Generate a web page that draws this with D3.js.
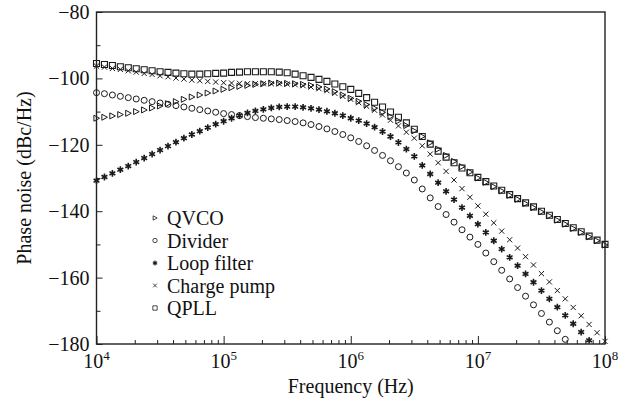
<!DOCTYPE html>
<html><head><meta charset="utf-8">
<script src="https://cdn.jsdelivr.net/npm/d3@7"></script>
<style>body{margin:0;background:#fff}svg{display:block}svg text{font-family:"Liberation Serif","DejaVu Serif",serif;}</style>
</head><body>
<svg id="c" width="627" height="404"></svg>
<script>
// sample frequencies: log10(f), 16 points per decade from 1e4 to 1e8
const logFreq = d3.range(65).map(i => 4 + i / 16);
const xTickExps = [4, 5, 6, 7, 8];
const yTicks = [-80, -100, -120, -140, -160, -180];
const yMinorTicks = [-90, -110, -130, -150, -170];
const seriesNames = ["QVCO", "Divider", "Loop filter", "Charge pump", "QPLL"];

const qvco = [-112.0,-111.7,-111.3,-110.9,-110.5,-110.0,-109.5,-108.9,-108.3,-107.6,-107.0,-106.3,-105.6,-105.0,-104.4,-103.8,
  -103.3,-102.8,-102.4,-102.1,-101.8,-101.6,-101.4,-101.4,-101.5,-101.6,-101.8,-102.1,-102.6,-103.2,-104.0,-105.0,
  -106.0,-106.9,-107.9,-109.0,-110.2,-111.5,-112.8,-114.2,-115.8,-117.5,-119.4,-121.3,-123.2,-125.0,-126.6,-128.2,
  -130.0,-131.3,-132.6,-133.9,-135.2,-136.4,-137.7,-138.9,-140.2,-141.4,-142.7,-143.9,-145.2,-146.4,-147.7,-148.9,-150.2];
const divider = [-104.3,-104.6,-105.0,-105.4,-105.8,-106.2,-106.6,-107.0,-107.4,-107.8,-108.2,-108.6,-109.0,-109.4,-109.8,-110.2,
  -110.6,-110.9,-111.2,-111.5,-111.8,-112.0,-112.2,-112.4,-112.7,-113.0,-113.4,-113.9,-114.5,-115.2,-116.0,-116.9,
  -117.9,-119.0,-120.3,-121.7,-123.2,-124.8,-126.6,-128.5,-130.6,-133.3,-136.0,-138.6,-141.0,-143.3,-145.6,-147.8,
  -150.0,-152.6,-155.2,-157.8,-160.4,-163.0,-165.6,-168.2,-170.8,-173.4,-176.0,-178.6,-181.2,-183.8,-186.4,-189.0,-191.6];
const loopFilter = [-130.8,-129.7,-128.6,-127.5,-126.4,-125.2,-124.0,-122.8,-121.6,-120.4,-119.2,-118.0,-116.9,-115.9,-114.8,-113.8,
  -112.9,-112.0,-111.2,-110.4,-109.8,-109.3,-108.9,-108.6,-108.5,-108.5,-108.7,-109.0,-109.4,-109.9,-110.5,-111.2,
  -112.0,-112.7,-113.6,-114.7,-116.0,-117.5,-119.3,-121.3,-123.5,-126.2,-128.8,-131.4,-134.0,-136.5,-138.9,-141.4,
  -143.9,-146.4,-148.9,-151.4,-153.9,-156.4,-158.9,-161.4,-163.9,-166.4,-168.9,-171.4,-173.9,-176.4,-178.9,-181.4,-183.9];
const chargePump = [-96.3,-96.6,-97.0,-97.3,-97.7,-98.1,-98.5,-98.8,-99.2,-99.5,-99.9,-100.2,-100.5,-100.7,-100.9,-101.1,
  -101.3,-101.4,-101.5,-101.6,-101.6,-101.6,-101.6,-101.6,-101.7,-101.9,-102.2,-102.6,-103.1,-103.7,-104.5,-105.4,
  -106.3,-107.3,-108.4,-109.6,-111.0,-112.6,-114.3,-116.2,-118.0,-120.3,-122.8,-125.4,-128.0,-130.6,-133.2,-135.8,
  -138.4,-140.9,-143.5,-146.0,-148.6,-151.1,-153.7,-156.2,-158.8,-161.3,-163.9,-166.4,-169.0,-171.5,-174.1,-176.6,-179.2];
const qpll = [-95.5,-95.8,-96.1,-96.5,-96.8,-97.1,-97.4,-97.7,-98.0,-98.2,-98.4,-98.6,-98.7,-98.7,-98.6,-98.5,
  -98.4,-98.2,-98.1,-98.0,-98.0,-98.0,-98.0,-98.1,-98.3,-98.7,-99.2,-99.7,-100.3,-100.9,-101.7,-102.5,
  -103.3,-104.5,-105.8,-107.2,-108.6,-110.1,-111.7,-113.4,-115.3,-117.5,-119.8,-121.9,-123.7,-125.4,-127.0,-128.4,
  -129.8,-131.1,-132.4,-133.7,-135.0,-136.2,-137.5,-138.7,-140.0,-141.2,-142.5,-143.7,-145.0,-146.2,-147.5,-148.7,-150.0];

const L = 96.5, R = 605, T = 12, B = 344;
const svg = d3.select("#c");
const x = d3.scaleLog().domain([1e4, 1e8]).range([L, R]);
const y = d3.scaleLinear().domain([-180, -80]).range([B, T]);

svg.append("rect").attr("width", 627).attr("height", 404).attr("fill", "#fff");

svg.append("defs").append("clipPath").attr("id", "clip")
  .append("rect").attr("x", L - 8).attr("y", 0).attr("width", R - L + 16).attr("height", B);

// marker shapes
const shapes = {
  "QVCO": s => `M${-2.6*s},${-3*s}L${3*s},0L${-2.6*s},${3*s}Z`,
  "Divider": s => d3.symbol(d3.symbolCircle, Math.PI * 9 * s * s)(),
  "Loop filter": s => {
    let p = "";
    for (let k = 0; k < 3; k++) {
      const a = Math.PI / 2 + k * Math.PI / 3, r = 3.4 * s;
      p += `M${-r*Math.cos(a)},${-r*Math.sin(a)}L${r*Math.cos(a)},${r*Math.sin(a)}`;
    }
    return p;
  },
  "Charge pump": s => `M${-2.6*s},${-2.6*s}L${2.6*s},${2.6*s}M${-2.6*s},${2.6*s}L${2.6*s},${-2.6*s}`,
  "QPLL": s => `M${-3*s},${-3*s}h${6*s}v${6*s}h${-6*s}Z`
};
const strokeW = {"QVCO": 1.0, "Divider": 1.0, "Loop filter": 1.6, "Charge pump": 1.0, "QPLL": 1.1};

const seriesData = {"QVCO": qvco, "Divider": divider, "Loop filter": loopFilter, "Charge pump": chargePump, "QPLL": qpll};
const drawOrder = ["Divider", "Loop filter", "Charge pump", "QVCO", "QPLL"];

const plot = svg.append("g").attr("clip-path", "url(#clip)");
drawOrder.forEach(name => {
  const vals = seriesData[name];
  const pts = logFreq.map((lf, i) => ({f: Math.pow(10, lf), v: vals[i]})).filter(d => d.v >= -184);
  plot.append("g").selectAll("path").data(pts).join("path")
    .attr("transform", d => `translate(${x(d.f)},${y(d.v)})`)
    .attr("d", shapes[name](1))
    .attr("fill", name === "Loop filter" ? "#111" : "none")
    .attr("stroke", "#1a1a1a").attr("stroke-width", strokeW[name]);
});

// axes
const yAxis = d3.axisLeft(y).tickValues(yTicks).tickSize(-6).tickPadding(7);
const gy = svg.append("g").attr("transform", `translate(${L},0)`).call(yAxis);
const yMin = d3.axisLeft(y).tickValues(yMinorTicks).tickSize(-4).tickFormat("");
svg.append("g").attr("transform", `translate(${L},0)`).call(yMin);

const xAxis = d3.axisBottom(x).tickValues(xTickExps.map(e => Math.pow(10, e))).tickSize(-8).tickFormat("");
svg.append("g").attr("transform", `translate(0,${B})`).call(xAxis);
const minorX = [];
xTickExps.slice(0, -1).forEach(e => { for (let m = 2; m <= 9; m++) minorX.push(m * Math.pow(10, e)); });
svg.append("g").attr("transform", `translate(0,${B})`)
  .call(d3.axisBottom(x).tickValues(minorX).tickSize(-4).tickFormat(""));

svg.selectAll(".domain").remove();
svg.selectAll("g").attr("font-family", null);
svg.selectAll(".tick line").attr("stroke", "#222").attr("stroke-width", 1);
gy.selectAll(".tick text").attr("font-size", 20).attr("fill", "#111");

// decade labels with superscripts
const xl = svg.append("g").selectAll("text").data(xTickExps).join("text")
  .attr("x", e => x(Math.pow(10, e))).attr("y", 368)
  .attr("text-anchor", "middle").attr("font-size", 20).attr("fill", "#111");
xl.append("tspan").text("10");
xl.append("tspan").attr("dy", -8).attr("font-size", 13).text(e => e);

// frame
svg.append("rect").attr("x", L).attr("y", T).attr("width", R - L).attr("height", B - T)
  .attr("fill", "none").attr("stroke", "#222").attr("stroke-width", 1.4);

// titles
svg.append("text").attr("x", (L + R) / 2).attr("y", 393).attr("text-anchor", "middle")
  .attr("font-size", 20).attr("fill", "#111").text("Frequency (Hz)");
svg.append("text").attr("transform", `translate(31,${(T + B) / 2}) rotate(-90)`).attr("text-anchor", "middle")
  .attr("font-size", 20).attr("fill", "#111").text("Phase noise (dBc/Hz)");

// legend
const lg = svg.append("g").selectAll("g").data(seriesNames).join("g")
  .attr("transform", (d, i) => `translate(155,${218 + i * 22.5})`);
lg.append("path").attr("d", d => shapes[d](0.72))
  .attr("fill", d => d === "Loop filter" ? "#111" : "none")
  .attr("stroke", "#1a1a1a").attr("stroke-width", d => d === "Loop filter" ? 1.2 : 0.8);
lg.append("text").attr("x", 12).attr("y", 7).attr("font-size", 20)
  .attr("fill", "#111").text(d => d);
</script>
</body></html>
